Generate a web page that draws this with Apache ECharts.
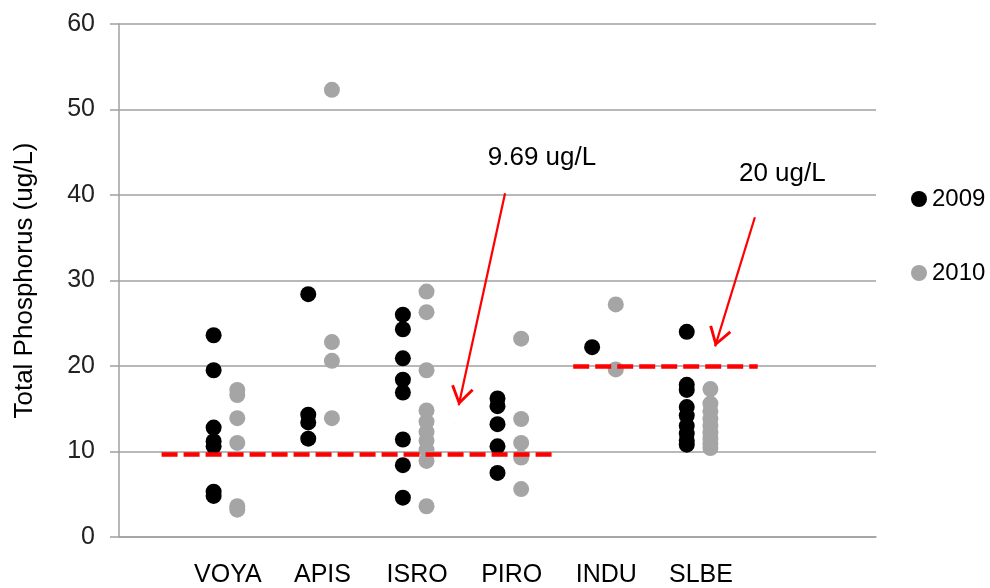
<!DOCTYPE html>
<html>
<head>
<meta charset="utf-8">
<script src="https://cdn.jsdelivr.net/npm/echarts@6/dist/echarts.min.js"></script>
<style>
  html, body { margin: 0; padding: 0; background: #fff; }
  #chart { width: 990px; height: 588px; }
</style>
</head>
<body>
<div id="chart"></div>
<script>
// Monitoring sites, in plotting order along the x axis (1..6)
const sites = ['VOYA', 'APIS', 'ISRO', 'PIRO', 'INDU', 'SLBE'];

// Total phosphorus samples (ug/L) per site, 2009
const tp2009 = [
  [23.6, 19.5, 12.8, 11.2, 10.6, 5.3, 4.8],
  [28.4, 14.3, 13.4, 11.5],
  [26.0, 24.3, 20.9, 18.4, 16.9, 11.4, 8.4, 4.6],
  [16.2, 15.3, 13.2, 10.6, 7.5],
  [22.2],
  [24.0, 17.8, 17.2, 15.2, 14.2, 13.0, 12.1, 11.3, 10.8]
];

// Total phosphorus samples (ug/L) per site, 2010
const tp2010 = [
  [17.2, 16.6, 13.9, 11.0, 3.6, 3.2],
  [52.3, 22.8, 20.6, 13.9],
  [28.7, 26.3, 19.5, 14.8, 13.5, 12.3, 11.3, 10.2, 8.9, 3.6],
  [23.2, 13.8, 11.0, 9.3, 5.6],
  [27.2, 19.6],
  [17.3, 15.6, 14.7, 13.8, 13.0, 12.2, 11.5, 10.9, 10.4]
];

// Reference criteria (ug/L) and the x-span each dashed line covers
const criteria = [9.69, 20];
const criteriaSpan = [[0.45, 4.59], [4.8, 6.75]];
const criteriaText = ['9.69 ug/L', '20 ug/L'];
// Callout text anchors and arrow start / tip, in axis units
const calloutAt = [[4.47, 44.4], [7.01, 42.5]];
const arrowFrom = [[4.08, 40.2], [6.72, 37.4]];
const arrowTo = [[3.59, 15.4], [6.30, 22.3]];

const yTicks = [0, 10, 20, 30, 40, 50, 60];
const yearOffset = 0.25;   // 2010 column sits just right of 2009
const labelOffset = 0.15;  // site name centred under the pair

const FONT = "'Liberation Sans', Arial, sans-serif";

function toPoints(groups, shift) {
  const out = [];
  groups.forEach((vals, i) => vals.forEach(v => out.push([i + 1 + shift, v])));
  return out;
}

const labelValues = sites.map((s, i) => i + 1 + labelOffset);

// open red chevron, tip at the centre of its box so the shaft meets the tip
const chevron = 'path://M11,0L11.3,0L11,0.3Z M11,19L22.5,37L20,38.6L11,24.2L2,38.6L-0.5,37Z';

const markLines = [];
criteria.forEach((c, i) => {
  markLines.push([
    { coord: [criteriaSpan[i][0], c], symbol: 'none',
      lineStyle: { color: '#FF0000', width: 4.5, type: [16, 6] } },
    { coord: [criteriaSpan[i][1], c], symbol: 'none' }
  ]);
  markLines.push([
    { coord: arrowFrom[i], symbol: 'none',
      lineStyle: { color: '#FF0000', width: 2.2, type: 'solid' } },
    { coord: arrowTo[i], symbol: chevron, symbolSize: [23, 38] }
  ]);
});

const chart = echarts.init(document.getElementById('chart'), null, { renderer: 'canvas' });

chart.setOption({
  animation: false,
  backgroundColor: '#ffffff',
  textStyle: { fontFamily: FONT },
  grid: { left: 119, right: 114, top: 24, bottom: 51, outerBoundsMode: 'none', containLabel: false },
  legend: {
    orient: 'vertical',
    left: 906,
    top: 182,
    itemGap: 50,
    itemWidth: 16,
    itemHeight: 16,
    icon: 'circle',
    data: ['2009', '2010'],
    textStyle: { fontSize: 24, color: '#000', fontFamily: FONT }
  },
  xAxis: {
    type: 'value',
    min: 0,
    max: 8,
    interval: 1,
    splitLine: { show: false },
    axisTick: { show: false },
    axisLine: { show: true, lineStyle: { color: '#A0A0A0', width: 1.5 } },
    axisLabel: {
      customValues: labelValues,
      margin: 26,
      fontSize: 25,
      color: '#000',
      fontFamily: FONT,
      formatter: v => {
        const k = labelValues.findIndex(x => Math.abs(x - v) < 1e-6);
        return k >= 0 ? sites[k] : '';
      }
    }
  },
  yAxis: {
    type: 'value',
    min: yTicks[0],
    max: yTicks[yTicks.length - 1],
    interval: 10,
    name: 'Total Phosphorus (ug/L)',
    nameLocation: 'middle',
    nameRotate: 90,
    nameGap: 81,
    nameTextStyle: { fontSize: 26, color: '#000', fontFamily: FONT },
    axisLine: { show: true, lineStyle: { color: '#A0A0A0', width: 1.5 } },
    axisTick: { show: true, inside: false, length: 9, lineStyle: { color: '#A0A0A0', width: 1.5 } },
    splitLine: { show: true, lineStyle: { color: '#A0A0A0', width: 1.5 } },
    axisLabel: { margin: 24, fontSize: 25, color: '#222', fontFamily: FONT }
  },
  series: [
    {
      name: '2009',
      type: 'scatter',
      symbol: 'circle',
      symbolSize: 16,
      itemStyle: { color: '#000000', opacity: 1 },
      data: toPoints(tp2009, 0),
      z: 2
    },
    {
      name: '2010',
      type: 'scatter',
      symbol: 'circle',
      symbolSize: 16,
      itemStyle: { color: '#A5A5A5', opacity: 1 },
      data: toPoints(tp2010, yearOffset),
      z: 2
    },
    {
      name: 'criteria',
      type: 'scatter',
      data: [],
      z: 5,
      silent: true,
      markLine: {
        silent: true,
        animation: false,
        symbol: ['none', 'none'],
        label: { show: false },
        data: markLines
      },
      markPoint: {
        silent: true,
        animation: false,
        symbol: 'circle',
        symbolSize: 0,
        label: {
          show: true,
          position: 'inside',
          fontSize: 26,
          color: '#000',
          fontFamily: FONT,
          formatter: p => p.name
        },
        data: criteriaText.map((t, i) => ({ name: t, coord: calloutAt[i] }))
      }
    }
  ]
});
</script>
</body>
</html>
